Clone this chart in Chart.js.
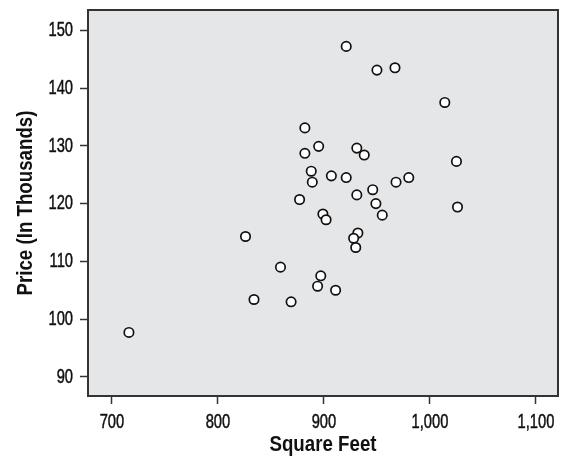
<!DOCTYPE html>
<html>
<head>
<meta charset="utf-8">
<script src="https://cdn.jsdelivr.net/npm/chart.js@4/dist/chart.umd.min.js"></script>
<style>
  html, body { margin: 0; padding: 0; background: #fff; overflow: hidden; }
  #wrap { position: relative; width: 561px; height: 456px; }
  canvas { display: block; }
</style>
</head>
<body>
<div id="wrap"><canvas id="scatter"></canvas></div>
<script>
// square feet / price (thousands)
const sqft = [716, 826, 834, 859, 869, 877, 882, 882, 888, 889, 895, 899, 902, 897, 894, 911, 907, 921, 921, 931, 938, 931, 932, 928, 930, 950, 967, 946, 949, 955, 968, 980, 1014, 1025, 1026];
const price = [97.7, 114.3, 103.4, 109.0, 103.0, 120.7, 133.1, 128.7, 125.6, 123.7, 129.9, 118.2, 117.2, 107.5, 105.7, 105.0, 124.8, 147.2, 124.5, 129.6, 128.4, 121.5, 114.9, 114.0, 112.4, 143.1, 143.5, 122.4, 120.0, 118.0, 123.7, 124.5, 137.5, 127.3, 119.4];
const xTicks = [700, 800, 900, 1000, 1100];
const yTicks = [90, 100, 110, 120, 130, 140, 150];

const points = sqft.map((x, i) => ({ x: x, y: price[i] }));
const fontFam = '"Liberation Sans", Arial, sans-serif';

// the original uses a condensed face; squeeze text horizontally
const narrowPlugin = {
    id: 'narrow',
    beforeDraw(chart) {
        const ctx = chart.ctx;
        if (ctx._narrowed) return;
        const orig = ctx.fillText.bind(ctx);
        const origStroke = ctx.strokeText.bind(ctx);
        ctx.fillText = function(text, x, y, maxWidth) {
            const bold = /bold/.test(ctx.font);
            ctx.save();
            ctx.translate(x, y);
            ctx.scale(bold ? 0.85 : 0.7, 1);
            orig(text, 0, 0);
            if (!bold) {
                ctx.strokeStyle = ctx.fillStyle;
                ctx.lineWidth = 0.5;
                origStroke(text, 0, 0);
            }
            ctx.restore();
        };
        ctx._narrowed = true;
    }
};

const framePlugin = {
    id: 'frame',
    beforeDraw(chart) {
        const a = chart.chartArea;
        const ctx = chart.ctx;
        ctx.save();
        ctx.fillStyle = '#e5e6e8';
        ctx.fillRect(a.left, a.top, a.right - a.left, a.bottom - a.top);
        ctx.restore();
    },
    afterDatasetsDraw(chart) {
        const a = chart.chartArea;
        const ctx = chart.ctx;
        ctx.save();
        ctx.strokeStyle = '#333';
        ctx.lineWidth = 2;
        ctx.strokeRect(a.left, a.top, a.right - a.left, a.bottom - a.top);
        ctx.restore();
    }
};

new Chart(document.getElementById('scatter'), {
    type: 'scatter',
    data: {
        datasets: [{
            data: points,
            backgroundColor: '#fff',
            borderColor: '#111',
            borderWidth: 1.7,
            pointRadius: 4.7,
            pointHoverRadius: 4.7
        }]
    },
    options: {
        responsive: true,
        maintainAspectRatio: false,
        animation: false,
        layout: { autoPadding: false, padding: { top: 10, right: 3, left: 0, bottom: 0 } },
        plugins: { legend: { display: false }, tooltip: { enabled: false } },
        scales: {
            x: {
                type: 'linear',
                min: 677.4,
                max: 1120.8,
                afterBuildTicks: s => { s.ticks = xTicks.map(v => ({ value: v })); },
                afterFit: s => { s.height = 60; s.paddingLeft = 0; s.paddingRight = 0; },
                grid: { drawOnChartArea: false, tickLength: 8, color: '#333', tickWidth: 1.5 },
                border: { display: false },
                ticks: {
                    color: '#111',
                    padding: 6,
                    font: { family: fontFam, size: 21 },
                    callback: v => v.toLocaleString('en-US')
                },
                title: {
                    display: true,
                    text: 'Square Feet',
                    color: '#111',
                    padding: 0,
                    font: { family: fontFam, size: 22, weight: 'bold', lineHeight: 1 }
                }
            },
            y: {
                type: 'linear',
                min: 86.7,
                max: 153.5,
                afterBuildTicks: s => { s.ticks = yTicks.map(v => ({ value: v })); },
                afterFit: s => { s.width = 88; s.paddingTop = 0; s.paddingBottom = 0; },
                grid: { drawOnChartArea: false, tickLength: 8, color: '#333', tickWidth: 1.5 },
                border: { display: false },
                ticks: {
                    color: '#111',
                    padding: 7,
                    font: { family: fontFam, size: 21 }
                },
                title: {
                    display: true,
                    text: 'Price (In Thousands)',
                    color: '#111',
                    padding: { top: 15, bottom: 0 },
                    font: { family: fontFam, size: 22, weight: 'bold', lineHeight: 1 }
                }
            }
        }
    },
    plugins: [narrowPlugin, framePlugin]
});
</script>
</body>
</html>
